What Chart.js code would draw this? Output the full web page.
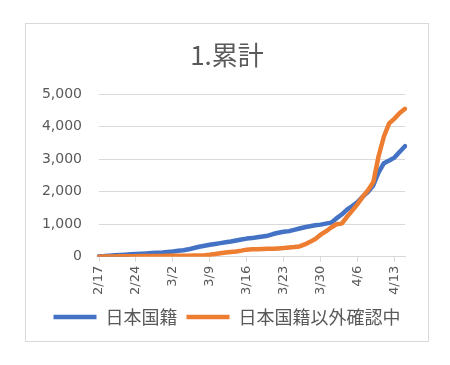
<!DOCTYPE html>
<html>
<head>
<meta charset="utf-8">
<script src="https://cdn.jsdelivr.net/npm/chart.js@4"></script>
<style>
  html, body { margin: 0; padding: 0; background: #ffffff; }
  #box {
    position: absolute; left: 25px; top: 23px;
    width: 402px; height: 317px;
    border: 1px solid #d9d9d9; background: #ffffff;
  }
</style>
</head>
<body>
<div id="box"><canvas id="chart"></canvas></div>
<script>
// Dates 2/17 - 4/15
var dates = [
  '2/17','2/18','2/19','2/20','2/21','2/22','2/23','2/24','2/25','2/26','2/27','2/28','2/29',
  '3/1','3/2','3/3','3/4','3/5','3/6','3/7','3/8','3/9','3/10','3/11','3/12','3/13','3/14','3/15',
  '3/16','3/17','3/18','3/19','3/20','3/21','3/22','3/23','3/24','3/25','3/26','3/27','3/28','3/29',
  '3/30','3/31','4/1','4/2','4/3','4/4','4/5','4/6','4/7','4/8','4/9','4/10','4/11','4/12','4/13',
  '4/14','4/15'
];

// labelled dates on the x axis (one per week)
var xTickLabels = ['2/17', '2/24', '3/2', '3/9', '3/16', '3/23', '3/30', '4/6', '4/13'];

// 日本国籍
var japanese = [
  20, 25, 35, 45, 55, 65, 75, 85, 95, 105, 115, 125, 135,
  150, 165, 185, 200, 230, 270, 310, 340, 370, 395, 420, 445, 470, 500, 530,
  560, 575, 600, 625, 650, 700, 740, 770, 790, 830, 870, 910, 940, 970,
  990, 1020, 1050, 1180, 1300, 1450, 1560, 1680, 1850, 2000, 2200, 2600, 2880, 2960, 3050,
  3230, 3400
];

// 日本国籍以外確認中
var others = [
  5, 8, 10, 12, 14, 16, 18, 20, 22, 24, 25, 26, 28,
  30, 32, 33, 34, 35, 38, 40, 50, 65, 85, 110, 130, 150, 165, 190,
  220, 230, 232, 240, 245, 250, 258, 268, 285, 300, 320, 380, 460, 550,
  680, 780, 900, 1000, 1020, 1230, 1420, 1620, 1850, 2050, 2300, 3100, 3700, 4100, 4250,
  4420, 4550
];

var seriesNames = ['日本国籍', '日本国籍以外確認中'];
var yTicks = [0, 1000, 2000, 3000, 4000, 5000];

var textColor = '#595959';
var gridColor = '#d9d9d9';

var ctx = document.getElementById('chart').getContext('2d');
new Chart(ctx, {
  type: 'line',
  data: {
    labels: dates,
    datasets: [
      {
        label: seriesNames[0],
        data: japanese,
        borderColor: '#4472C4',
        backgroundColor: '#4472C4',
        borderWidth: 4.5,
        borderCapStyle: 'round',
        borderJoinStyle: 'round',
        pointRadius: 0,
        tension: 0,
        order: 1
      },
      {
        label: seriesNames[1],
        data: others,
        borderColor: '#ED7D31',
        backgroundColor: '#ED7D31',
        borderWidth: 4.5,
        borderCapStyle: 'round',
        borderJoinStyle: 'round',
        pointRadius: 0,
        tension: 0,
        order: 0
      }
    ]
  },
  options: {
    responsive: true,
    maintainAspectRatio: false,
    animation: false,
    locale: 'en-US',
    layout: { padding: { left: 0, right: 0, top: 0, bottom: 5 } },
    plugins: {
      tooltip: { enabled: false },
      title: {
        display: true,
        text: '1.累計',
        color: textColor,
        font: { family: '"Noto Sans CJK JP", sans-serif', size: 26, weight: 'normal' },
        padding: { top: 16, bottom: 23 }
      },
      legend: {
        position: 'bottom',
        labels: {
          color: textColor,
          font: { family: '"Noto Sans CJK JP", sans-serif', size: 18 },
          usePointStyle: true,
          pointStyle: 'line',
          pointStyleWidth: 43,
          padding: 9,
          sort: function(a, b) { return a.datasetIndex - b.datasetIndex; }
        }
      }
    },
    scales: {
      x: {
        offset: false,
        afterBuildTicks: function(scale) {
          scale.ticks = xTickLabels.map(function(d) { return { value: dates.indexOf(d) }; });
        },
        grid: { drawOnChartArea: false, drawTicks: true, tickLength: 5, color: gridColor },
        border: { display: true, color: gridColor, width: 1 },
        ticks: {
          autoSkip: false,
          minRotation: 90,
          maxRotation: 90,
          padding: 4,
          color: textColor,
          font: { family: '"DejaVu Sans", sans-serif', size: 13 }
        }
      },
      y: {
        min: yTicks[0],
        max: yTicks[yTicks.length - 1],
        afterFit: function(scale) { scale.width = 73; },
        afterBuildTicks: function(scale) {
          scale.ticks = yTicks.map(function(v) { return { value: v }; });
        },
        grid: { drawTicks: false, color: gridColor },
        border: { display: false },
        ticks: {
          padding: 17,
          color: textColor,
          font: { family: '"DejaVu Sans", sans-serif', size: 14 },
          callback: function(value) { return value.toLocaleString('en-US'); }
        }
      },
      // empty right-hand margin so title and legend stay centred in the frame
      yRight: {
        position: 'right',
        display: true,
        afterFit: function(scale) { scale.width = 23; },
        grid: { display: false },
        border: { display: false },
        ticks: { display: false }
      }
    }
  }
});
</script>
</body>
</html>
